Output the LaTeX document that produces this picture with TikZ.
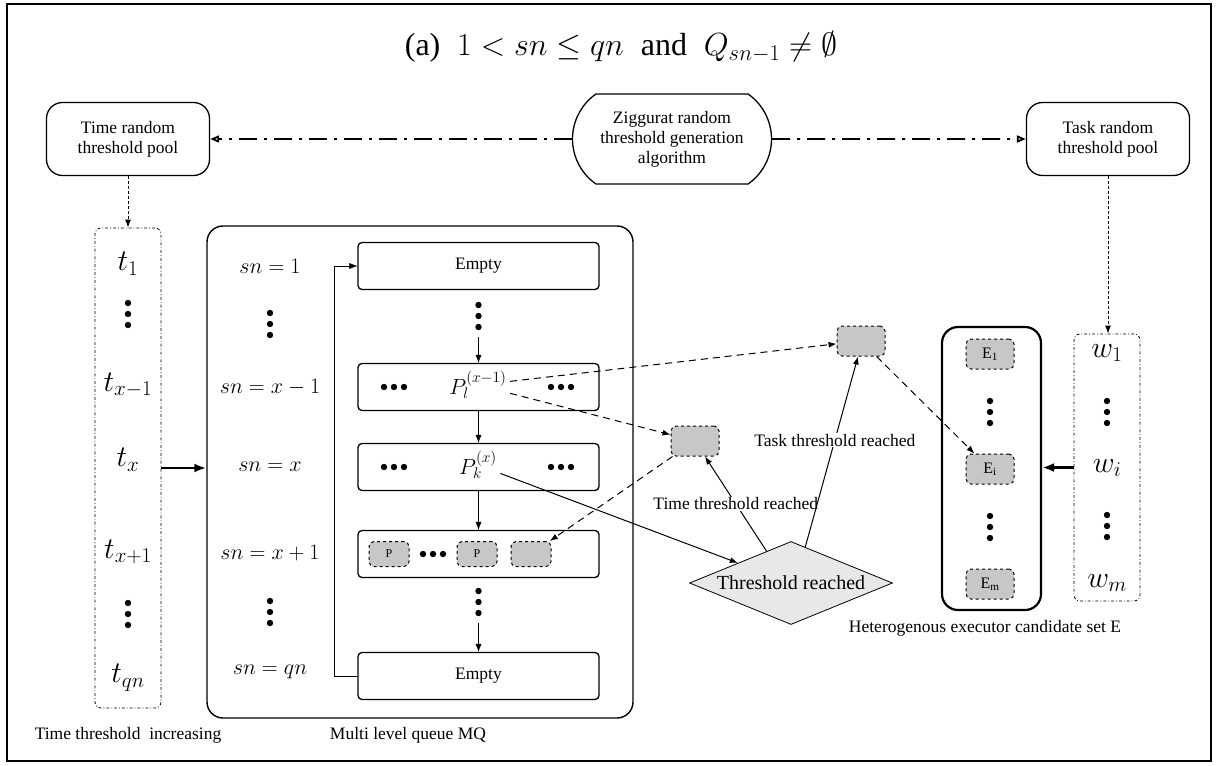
\RequirePackage{fix-cm}
\documentclass[tikz,border=0pt]{standalone}
\usepackage{fontspec}
\setmainfont{Liberation Serif}
\usetikzlibrary{arrows.meta,calc,shapes.geometric,shapes.misc,positioning}
\newcommand{\boxgray}{black!22!white}
\newcommand{\diagray}{black!9!white}
\newcommand{\smallfont}{\fontsize{17.5}{20}\selectfont}
\newcommand{\midmath}{\fontsize{22}{24}\selectfont}
\newcommand{\bigmath}{\fontsize{30}{32}\selectfont}

\tikzset{
  vdots/.pic={\foreach \k in {-11,0,11} \fill (0,\k) circle (3.2pt);},
  hdots/.pic={\foreach \k in {-10,0,10} \fill (\k,0) circle (3.2pt);},
}

\begin{document}
\begin{tikzpicture}[x=1pt, y=-1pt, >={Latex[length=8pt,width=6pt]},
    pool/.style={draw, line width=1.3pt, rounded corners=16pt, minimum width=163pt, minimum height=73pt, align=center, font=\smallfont},
    zig/.style={draw, line width=1.3pt, rounded rectangle, rounded rectangle arc length=110, minimum width=203pt, minimum height=90pt, align=center, font=\smallfont, inner sep=2pt},
    col/.style={draw, line width=0.8pt, dash dot, rounded corners=6pt, minimum width=66pt},
    mqbox/.style={draw, line width=1.4pt, rounded corners=16pt, minimum width=426pt, minimum height=492pt},
    esetbox/.style={draw, line width=2.2pt, rounded corners=16pt, minimum width=99pt, minimum height=283pt},
    qbox/.style={draw, line width=1.3pt, rounded corners=4pt, minimum width=241pt, minimum height=47pt, font=\smallfont},
    gbox/.style={draw, dashed, line width=1pt, fill=\boxgray, rounded corners=5pt, minimum width=48pt, minimum height=30pt, inner sep=0pt, font=\fontsize{16}{16}\selectfont},
    pbox/.style={gbox, minimum width=40pt, minimum height=25pt, font=\fontsize{12}{12}\selectfont},
    lbl/.style={fill=white, font=\smallfont, inner sep=1pt},
    tlab/.style={font=\bigmath},
    slab/.style={font=\midmath},
    dda/.style={line width=1.8pt, dash pattern=on 18pt off 7pt on 3pt off 7pt, -{Triangle[open,length=9pt,width=7pt]}},
    fine/.style={line width=0.9pt, dash pattern=on 3pt off 2pt, ->},
    longdash/.style={line width=1pt, dash pattern=on 7pt off 5pt, ->},
    bigarrow/.style={line width=2.6pt, -{Latex[length=12pt,width=9pt]}}]
    \useasboundingbox (0,0) rectangle (1217,765);

    % frame and title
    \draw[line width=2.5pt] (7,4) rectangle (1211,761);
    \node[font=\fontsize{32}{34}\selectfont] (title) at (621,47) {(a)\; $1<sn\le qn$\; and\; $Q_{sn-1}\neq\emptyset$};

    % pools
    \node[pool] (tpool) at (128,139) {Time random\\threshold pool};
    \node[zig] (zig) at (672,139) {Ziggurat random\\threshold generation\\algorithm};
    \node[pool] (kpool) at (1108,139) {Task random\\threshold pool};
    \draw[dda] (zig) -- (tpool);
    \draw[dda] (zig) -- (kpool);

    % time thresholds
    \node[col, minimum height=480pt] (tcol) at (128,468) {};
    \draw[fine] (tpool) -- (tcol);
    \node[tlab] (t1) at (128,264) {$t_1$};
    \pic at (128,314) {vdots};
    \node[tlab] (txm) at (128,385) {$t_{x-1}$};
    \node[tlab] (tx) at (128,460) {$t_x$};
    \node[tlab] (txp) at (128,552) {$t_{x+1}$};
    \pic at (128,614) {vdots};
    \node[tlab] (tqn) at (128,678) {$t_{qn}$};

    % multi level queue
    \node[mqbox] (mq) at (420,472) {};
    \draw[bigarrow] (tcol.east) -- (tcol.east -| mq.west);
    \node[slab] (s1) at (270,266) {$sn=1$};
    \pic at (270,324) {vdots};
    \node[slab] (sxm) at (270,387) {$sn=x-1$};
    \node[slab] (sx) at (270,467) {$sn=x$};
    \node[slab] (sxp) at (270,553) {$sn=x+1$};
    \pic at (270,612) {vdots};
    \node[slab] (sqn) at (270,672) {$sn=qn$};

    \node[qbox] (q1) at (478.5,266) {Empty};
    \node[qbox] (q2) at (478.5,387) {};
    \node[qbox] (q3) at (478.5,467) {};
    \node[qbox] (q4) at (478.5,554) {};
    \node[qbox] (q5) at (478.5,676) {Empty};

    \pic at (478.5,316) {vdots};
    \coordinate (d1) at (478.5,337);
    \draw[->] (d1) -- (q2.north);
    \draw[->] (q2) -- (q3);
    \draw[->] (q3) -- (q4);
    \pic at (478.5,602) {vdots};
    \coordinate (d2) at (478.5,623);
    \draw[->] (d2) -- (q5.north);
    \draw[->] (q5.west) -- ++(-23,0) |- (q1.west);

    % queue contents
    \pic at (394,387) {hdots};
    \node[slab] (pl) at (478,385) {$P_l^{(x-1)}$};
    \pic at (561,387) {hdots};
    \pic at (394,467) {hdots};
    \node[slab] (pk) at (478,465) {$P_k^{(x)}$};
    \pic at (561,467) {hdots};
    \node[pbox] (p1) at (389,554) {P};
    \pic at (433,554) {hdots};
    \node[pbox] (p2) at (477,554) {P};
    \node[pbox] (eslot) at (531,554) {};

    % threshold check
    \node[gbox] (tbox) at (695,441) {};
    \node[gbox] (kbox) at (861,341) {};
    \node[draw, diamond, aspect=2.45, fill=\diagray, line width=0.8pt, minimum width=203pt, minimum height=83pt, inner sep=0pt, font=\fontsize{20}{22}\selectfont] (thr) at (791,583) {Threshold reached};

    \draw[->, line width=1pt] (pk) -- (thr);
    \draw[longdash] (pl) -- (tbox);
    \draw[longdash] (pl) -- (kbox);
    \draw[longdash] (tbox) -- (eslot);
    \draw[->, line width=1pt] ($(thr.north)!.24!(thr.west)$) -- ([xshift=10pt]tbox.south) node[lbl, midway] {Time threshold reached};
    \draw[->, line width=1pt] ($(thr.north)!.14!(thr.east)$) -- ([xshift=-3pt]kbox.south) node[lbl, pos=.56] {Task threshold reached};

    % executors
    \node[esetbox] (eset) at (991.5,468.5) {};
    \node[gbox] (e1) at (990,354) {E\textsubscript{1}};
    \pic at (990,412) {vdots};
    \node[gbox] (ei) at (990,469) {E\textsubscript{i}};
    \pic at (990,527) {vdots};
    \node[gbox] (em) at (990,584) {E\textsubscript{m}};
    \draw[longdash] (kbox) -- (ei);

    % task thresholds
    \node[col, minimum height=267pt] (wcol) at (1107,467.5) {};
    \draw[fine] (kpool.south) -- (kpool.south |- wcol.north);
    \node[tlab] (w1) at (1107,353) {$w_1$};
    \pic at (1107,412) {vdots};
    \node[tlab] (wi) at (1107,468) {$w_i$};
    \pic at (1107,526) {vdots};
    \node[tlab] (wm) at (1107,583) {$w_m$};
    \draw[bigarrow] (wcol.west) -- (wcol.west -| eset.east);

    % captions
    \node[font=\smallfont] (tcap) at (128,735) {Time threshold\ \ increasing};
    \node[font=\smallfont] (mqcap) at (408,735) {Multi level queue MQ};
    \node[font=\smallfont] (ecap) at (985,628) {Heterogenous executor candidate set E};
\end{tikzpicture}
\end{document}
